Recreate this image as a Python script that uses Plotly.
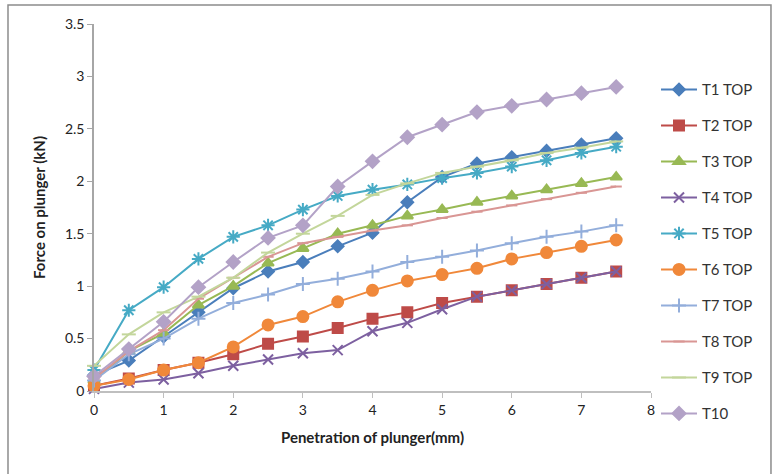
import plotly.graph_objects as go

x_mm = [0, 0.5, 1, 1.5, 2, 2.5, 3, 3.5, 4, 4.5, 5, 5.5, 6, 6.5, 7, 7.5]

t1 = [0.15, 0.29, 0.52, 0.75, 0.98, 1.14, 1.23, 1.38, 1.51, 1.80, 2.04, 2.17, 2.23, 2.29, 2.35, 2.41]
t2 = [0.05, 0.12, 0.20, 0.27, 0.35, 0.45, 0.52, 0.60, 0.69, 0.75, 0.84, 0.90, 0.96, 1.02, 1.08, 1.14]
t3 = [0.10, 0.38, 0.55, 0.82, 1.00, 1.22, 1.36, 1.50, 1.58, 1.67, 1.73, 1.80, 1.86, 1.92, 1.98, 2.04]
t4 = [0.02, 0.08, 0.11, 0.17, 0.24, 0.30, 0.36, 0.39, 0.57, 0.65, 0.78, 0.90, 0.96, 1.02, 1.08, 1.14]
t5 = [0.20, 0.77, 0.99, 1.26, 1.47, 1.58, 1.73, 1.86, 1.92, 1.97, 2.03, 2.08, 2.14, 2.20, 2.27, 2.33]
t6 = [0.05, 0.11, 0.20, 0.27, 0.42, 0.63, 0.71, 0.85, 0.96, 1.05, 1.11, 1.17, 1.26, 1.32, 1.38, 1.44]
t7 = [0.10, 0.35, 0.50, 0.69, 0.84, 0.92, 1.02, 1.07, 1.14, 1.23, 1.28, 1.34, 1.41, 1.47, 1.52, 1.58]
t8 = [0.12, 0.38, 0.58, 0.88, 1.08, 1.28, 1.41, 1.47, 1.53, 1.58, 1.65, 1.71, 1.77, 1.83, 1.89, 1.95]
t9 = [0.24, 0.54, 0.75, 0.90, 1.08, 1.32, 1.50, 1.67, 1.87, 1.98, 2.08, 2.14, 2.20, 2.27, 2.32, 2.38]
t10 = [0.14, 0.40, 0.66, 0.99, 1.23, 1.46, 1.58, 1.95, 2.19, 2.42, 2.54, 2.66, 2.72, 2.78, 2.84, 2.90]

names = ["T1 TOP", "T2 TOP", "T3 TOP", "T4 TOP", "T5 TOP", "T6 TOP", "T7 TOP", "T8 TOP", "T9 TOP", "T10"]
series = [t1, t2, t3, t4, t5, t6, t7, t8, t9, t10]
colors = ["#4A7EBB", "#BE4B48", "#98B954", "#7D60A0", "#46AAC5", "#F0883A", "#93AEDB", "#D99694", "#C3D69B", "#B3A2C7"]
symbols = ["diamond", "square", "triangle-up", "x-thin-open", "asterisk-open", "circle",
           "cross-thin-open", "line-ew-open", "line-ew-open", "diamond"]
sizes = [9, 10, 10, 10, 11, 11, 10, 8, 10, 10]

fig = go.Figure()
for name, ys, c, s, sz in zip(names, series, colors, symbols, sizes):
    fig.add_trace(go.Scatter(
        x=x_mm, y=ys, name=name, mode="lines+markers", legendgroup=name,
        line=dict(color=c, width=2),
        marker=dict(symbol=s, size=sz, color=c, line=dict(color=c, width=2)),
        cliponaxis=False,
    ))

fig.update_layout(
    width=774, height=474,
    margin=dict(l=94, r=123, t=24, b=83),
    paper_bgcolor="white", plot_bgcolor="white",
    font=dict(family="Lato, Open Sans, sans-serif", size=13, color="#222"),
    showlegend=True,
    legend=dict(x=1.009, y=0.866, xanchor="left", yanchor="top",
                font=dict(size=15, color="#333"), tracegroupgap=13.5,
                itemwidth=36,
                bgcolor="rgba(0,0,0,0)"),
    xaxis=dict(range=[0, 8], dtick=1, tick0=0, showgrid=False, zeroline=False,
               showline=True, linecolor="#BFBFBF", linewidth=1.5,
               ticks="outside", ticklen=5, tickcolor="#BFBFBF",
               tickfont=dict(size=14, color="#222"),
               title=dict(text="<b>Penetration of plunger(mm)</b>", font=dict(size=15, color="#222"), standoff=16)),
    yaxis=dict(range=[0, 3.5], dtick=0.5, tick0=0, showgrid=False, zeroline=False,
               showline=True, linecolor="#A6A6A6", linewidth=1.5,
               ticks="outside", ticklen=5, tickcolor="#A6A6A6",
               tickfont=dict(size=14, color="#222"),
               title=dict(text="<b>Force on plunger (kN)</b>", font=dict(size=15, color="#222"), standoff=16)),
    shapes=[dict(type="rect", xref="paper", yref="paper",
                 x0=-0.1544, x1=1.2154, y0=-0.25, y1=1.0518,
                 line=dict(color="#8C8C8C", width=1.5), fillcolor="rgba(0,0,0,0)", layer="below")],
)

fig.write_html("out.html")
